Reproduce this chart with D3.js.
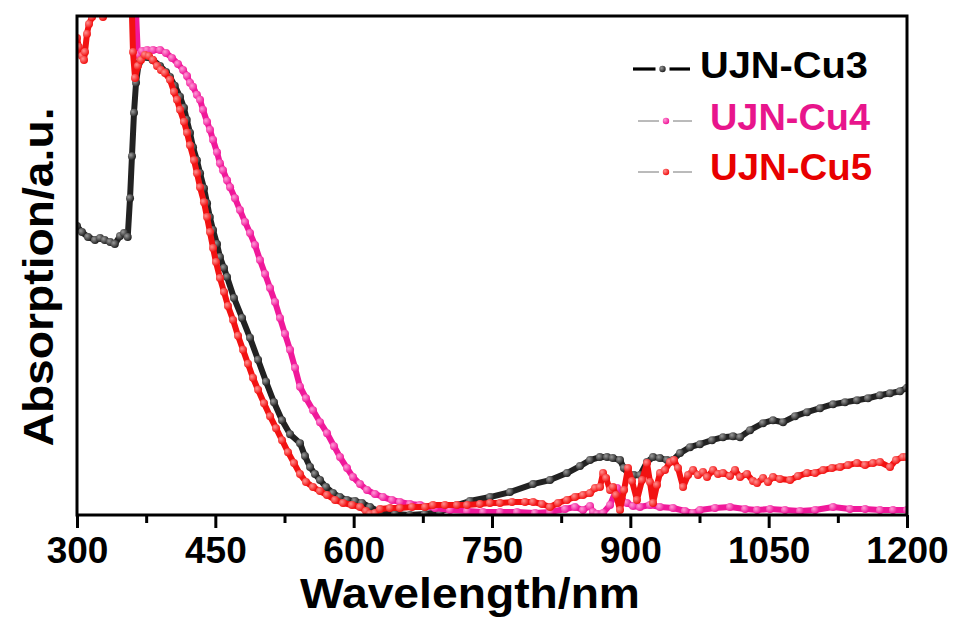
<!DOCTYPE html>
<html>
<head>
<meta charset="utf-8">
<script src="https://cdn.jsdelivr.net/npm/d3@7"></script>
<style>
  body { margin: 0; background: #fff; }
  text { font-family: "Liberation Sans", Arial, sans-serif; font-weight: bold; }
</style>
</head>
<body>
<div id="chart"></div>
<script>
// wavelength (nm), absorption (a.u., 0-100)
const cu3 = [
  [300, 57.9], [305.4, 56.7], [312, 55.7], [319.5, 55.1], [325, 55.5], [330, 55.1], [336, 54.7], [341, 54.3],
  [346.6, 55.9], [351, 56.5], [355, 55.7], [357.5, 63.5], [359.6, 71.9], [361.8, 80.6], [364, 86.6], [367, 90.6],
  [371.6, 91.8], [376, 91.8], [382, 91.2], [390, 90.0], [396.5, 88.8], [400.8, 87.8], [406, 86.0], [411.7, 83.8],
  [416, 81.6], [419, 79.2], [422.5, 76.6], [425.8, 73.7], [430, 71.1], [433.4, 68.5], [437.7, 65.5], [441, 62.5],
  [444, 59.7], [447.5, 57.1], [451.8, 54.3], [455, 51.7], [459.4, 49.5], [462.7, 47.7], [470.2, 43.5], [479, 39.5],
  [487.6, 35.5], [496.3, 31.1], [505, 26.7], [513.6, 22.6], [522.3, 19.0], [531, 16.2], [541.8, 14.4], [547.2, 11.8],
  [552.7, 9.6], [558, 8.2], [563.5, 7.0], [570, 5.6], [577.6, 4.4], [585, 3.6], [592.8, 3.0], [601.5, 2.8],
  [609, 2.4], [617.7, 1.6], [628.6, 0.6], [644.8, 0.2], [661, 0], [677, 0.2], [693.6, 0.6], [712, 2.0],
  [726, 2.8], [747.8, 3.6], [769.5, 4.6], [794.5, 6.2], [812.9, 7.0], [831.3, 8.4], [845.4, 9.8], [856.3, 11.0],
  [867, 11.6], [874.7, 11.6], [881, 11.4], [888.8, 11.0], [893, 9.4], [897.5, 8.2], [904, 8.0], [910.5, 8.0],
  [918, 10.6], [924.6, 11.6], [932, 11.4], [939.8, 11.0], [946, 11.0], [953.9, 12.4], [964.7, 13.6], [975.5, 14.2],
  [988.6, 15.0], [1000.5, 15.6], [1011.3, 15.8], [1019, 15.6], [1029.8, 17.0], [1043.9, 18.4], [1054.7, 19.0],
  [1065.6, 18.6], [1078.6, 19.8], [1091.6, 20.6], [1105.7, 21.4], [1119.8, 22.2], [1132.8, 22.6], [1145.8, 23.0],
  [1157.7, 23.4], [1170.7, 24.0], [1181.6, 24.4], [1192.4, 24.8], [1200, 25.5]
];

const cu4 = [
  [360.7, 115], [366, 92.2], [370.5, 93.0], [376, 93.2], [382.4, 93.2], [390, 93.2], [396.5, 92.6], [403, 91.6],
  [409.5, 90.4], [415, 89.2], [419.3, 88.0], [422.5, 86.6], [425.8, 85.8], [430, 84.2], [433.4, 83.2], [436.6, 81.2],
  [441, 78.8], [444.2, 77.2], [447.5, 75.2], [451.8, 72.7], [455, 70.5], [458.3, 69.1], [462.7, 67.1], [466, 65.7],
  [471.3, 63.5], [476.7, 61.1], [482.2, 58.7], [487.6, 56.5], [493, 54.1], [498.4, 51.1], [503.9, 48.3], [509.3, 45.5],
  [514.7, 42.7], [520.1, 39.5], [525.5, 36.3], [531, 33.1], [536.4, 29.5], [541.8, 25.7], [548.3, 23.4], [555.9, 21.0],
  [563.5, 18.6], [571.1, 16.4], [578.7, 13.8], [585.2, 11.6], [592.8, 9.4], [599.3, 7.6], [606.9, 6.2], [614.5, 5.0],
  [623.1, 4.2], [631.8, 3.6], [641.6, 3.0], [650.2, 2.6], [661.1, 2.2], [671.9, 2.0], [688.2, 1.4], [704.5, 1.0],
  [722.9, 0.8], [740.3, 0.6], [758.7, 0.6], [777.1, 0.6], [796.6, 0.4], [812.9, 0.6], [829.2, 1.2], [840, 1.6],
  [848.7, 1.0], [856.3, 1.8], [859.5, 0.6], [863.9, 0.2], [870.4, 0.4], [878, 2.0], [885.6, 5.4], [891, 3.0],
  [896.4, 2.4], [902.9, 1.8], [910.5, 1.6], [921.3, 2.0], [932.2, 1.6], [946.3, 1.4], [959.3, 0.8], [968, 0.4],
  [975.5, 1.0], [991.8, 1.4], [1008.1, 1.6], [1024.4, 1.2], [1037.4, 1.0], [1051.5, 1.2], [1067.7, 1.0], [1084, 0.8],
  [1100.3, 1.0], [1119.8, 1.6], [1138.2, 1.2], [1154.5, 1.2], [1170.7, 1.0], [1184.8, 1.0], [1200, 1.0]
];

const cu5 = [
  [300, 95.6], [302, 93.8], [305.4, 92.0], [307.6, 91.2], [308.7, 92.8], [310.8, 96.4], [313, 98.4], [316.3, 99.8],
  [321.7, 101.2], [328.2, 99.8], [333.6, 101.6], [358.6, 107], [360.7, 92.8], [362.9, 87.6], [366, 90], [369.4, 91.2],
  [373.7, 92.2], [378, 92.0], [382.4, 91.2], [386.8, 90.0], [391, 89.2], [395.4, 88.6], [400.8, 87.2], [405.2, 84.8],
  [408.4, 83.2], [411.7, 81.2], [416, 78.8], [419.3, 76.6], [422.5, 74.1], [426.9, 71.1], [430.1, 68.5], [433.4, 65.7],
  [437.7, 62.7], [441, 59.7], [444.2, 56.7], [447.5, 53.5], [450.7, 50.7], [455, 47.5], [459.4, 44.7], [463.7, 41.9],
  [469.2, 39.1], [474.6, 35.9], [480, 33.1], [485.4, 30.3], [490.8, 27.5], [496.3, 25.1], [502.8, 22.4], [509.3, 19.8],
  [515.8, 17.4], [522.3, 15.0], [528.8, 12.6], [535.3, 10.4], [541.8, 8.2], [548.3, 6.6], [555.9, 5.6], [563.5, 4.8],
  [571.1, 4.0], [579.8, 3.0], [588.5, 2.4], [598.2, 2.0], [606.9, 1.6], [613.4, 0.8], [617.7, 0.2], [623.1, 0.4],
  [628.6, 1.2], [639.4, 1.4], [650.2, 1.4], [663.3, 1.6], [677.4, 1.6], [686, 2.0], [699, 2.0], [712, 2.0],
  [722.9, 2.0], [737, 2.2], [747.8, 2.4], [758.7, 2.4], [771.7, 2.6], [785.8, 2.6], [794.5, 2.6], [804.2, 2.2],
  [812.9, 1.6], [821.6, 2.4], [831.3, 3.0], [840, 3.6], [848.7, 4.0], [856.3, 4.4], [861.7, 5.4], [867.1, 5.6],
  [870.4, 8.4], [873.7, 7.4], [878, 5.0], [881.2, 5.6], [884.5, 4.0], [888.8, 1.0], [893.2, 5.0], [897.5, 9.4],
  [901.8, 6.8], [907.2, 3.0], [912.7, 7.0], [918.1, 10.4], [921.3, 6.6], [924.6, 2.4], [928.9, 6.0], [932.2, 8.4],
  [937.6, 9.0], [943, 10.6], [947.4, 11.0], [951.7, 9.4], [957.2, 5.6], [962.6, 8.0], [968, 9.0], [973.4, 8.0],
  [978.8, 8.6], [983.2, 7.6], [989.7, 9.0], [995.1, 8.2], [1000.5, 8.4], [1008.1, 7.8], [1013.5, 9.0], [1019, 7.6],
  [1026.5, 8.2], [1033, 6.8], [1037.4, 6.4], [1043.9, 7.4], [1049.3, 6.6], [1054.7, 7.6], [1062.3, 7.2], [1073.2, 7.0],
  [1081.8, 7.8], [1091.6, 8.4], [1100.3, 8.4], [1109, 9.0], [1118.7, 9.4], [1127.4, 9.6], [1136.1, 10.0], [1145.8, 10.4],
  [1154.5, 10.0], [1163.2, 10.4], [1170.7, 10.6], [1181.6, 9.6], [1188.1, 11.0], [1195.7, 11.6], [1200, 11.6]
];

const seriesNames = ["UJN-Cu3", "UJN-Cu4", "UJN-Cu5"];
const majorTicks = [300, 450, 600, 750, 900, 1050, 1200];
const minorTicks = [375, 525, 675, 825, 975, 1125];

const colors = { "UJN-Cu3": "#222222", "UJN-Cu4": "#f0189a", "UJN-Cu5": "#f21212" };
const hilite = { "UJN-Cu3": "#9a9a9a", "UJN-Cu4": "#ff9ad6", "UJN-Cu5": "#ff9090" };
const textColors = { "UJN-Cu3": "#000000", "UJN-Cu4": "#e8158c", "UJN-Cu5": "#e80000" };

const W = 954, H = 617;
const margin = { top: 16, right: 47, bottom: 102, left: 77 };
const width = W - margin.left - margin.right,
  height = H - margin.top - margin.bottom;

const svgRoot = d3.select("#chart").append("svg")
  .attr("width", W).attr("height", H);

const defs = svgRoot.append("defs");
seriesNames.forEach((n, i) => {
  const g = defs.append("radialGradient").attr("id", "dot" + i)
    .attr("cx", "35%").attr("cy", "35%").attr("r", "65%");
  g.append("stop").attr("offset", "0%").attr("stop-color", hilite[n]);
  g.append("stop").attr("offset", "100%").attr("stop-color", colors[n]);
});
defs.append("clipPath").attr("id", "plotclip")
  .append("rect").attr("x", 0).attr("y", 0).attr("width", width).attr("height", height);

const svg = svgRoot.append("g")
  .attr("transform", `translate(${margin.left}, ${margin.top})`);

const x = d3.scaleLinear().domain([300, 1200]).range([0, width]);
const y = d3.scaleLinear().domain([0, 100]).range([height, 0]);

// curves: thick line under beaded markers
const plot = svg.append("g").attr("clip-path", "url(#plotclip)");
const line = d3.line().x(d => x(d[0])).y(d => y(d[1]));
[cu3, cu4, cu5].forEach((data, i) => {
  const n = seriesNames[i];
  plot.append("path").datum(data)
    .attr("fill", "none")
    .attr("stroke", colors[n])
    .attr("stroke-width", 6)
    .attr("stroke-linejoin", "round")
    .attr("stroke-linecap", "round")
    .attr("d", line);
  plot.append("g").selectAll("circle").data(data).join("circle")
    .attr("cx", d => x(d[0]))
    .attr("cy", d => y(d[1]))
    .attr("r", 4)
    .attr("fill", `url(#dot${i})`);
});

// x axis ticks
const xAxis = svg.append("g")
  .attr("transform", `translate(0, ${height})`)
  .call(d3.axisBottom(x).tickValues(majorTicks).tickSize(13).tickFormat(d3.format("d")));
xAxis.select(".domain").remove();
xAxis.selectAll(".tick line").attr("stroke", "#000").attr("stroke-width", 3);
xAxis.selectAll(".tick text")
  .attr("y", 22)
  .attr("fill", "#000")
  .style("font-size", "37px");

const xMinor = svg.append("g")
  .attr("transform", `translate(0, ${height})`)
  .call(d3.axisBottom(x).tickValues(minorTicks).tickSize(8).tickFormat(""));
xMinor.select(".domain").remove();
xMinor.selectAll(".tick line").attr("stroke", "#000").attr("stroke-width", 3);

// frame
svg.append("rect")
  .attr("x", 0).attr("y", 0).attr("width", width).attr("height", height)
  .attr("fill", "none").attr("stroke", "#000").attr("stroke-width", 3);

// axis titles
svgRoot.append("text")
  .attr("x", 470).attr("y", 608)
  .attr("text-anchor", "middle")
  .attr("textLength", 340).attr("lengthAdjust", "spacingAndGlyphs")
  .style("font-size", "43px")
  .text("Wavelength/nm");

svgRoot.append("text")
  .attr("transform", "translate(53, 277) rotate(-90)")
  .attr("text-anchor", "middle")
  .attr("textLength", 339).attr("lengthAdjust", "spacingAndGlyphs")
  .style("font-size", "43px")
  .text("Absorption/a.u.");

// legend
const legendRows = [
  { name: "UJN-Cu3", y: 69, base: 78, tx: 700, tw: 168, x0: 633, x1: 690, lw: 3.2, lc: "#000" },
  { name: "UJN-Cu4", y: 121, base: 130, tx: 710, tw: 160, x0: 638, x1: 692, lw: 1, lc: "#777" },
  { name: "UJN-Cu5", y: 172, base: 180, tx: 710, tw: 162, x0: 638, x1: 692, lw: 1, lc: "#777" }
];
const legend = svgRoot.append("g");
legendRows.forEach((r, i) => {
  const cx = (r.x0 + r.x1) / 2 + 1;
  legend.append("line").attr("x1", r.x0).attr("x2", cx - 7).attr("y1", r.y).attr("y2", r.y)
    .attr("stroke", r.lc).attr("stroke-width", r.lw);
  legend.append("line").attr("x1", cx + 7).attr("x2", r.x1).attr("y1", r.y).attr("y2", r.y)
    .attr("stroke", r.lc).attr("stroke-width", r.lw);
  legend.append("circle").attr("cx", cx).attr("cy", r.y).attr("r", 3.2)
    .attr("fill", `url(#dot${i})`);
  legend.append("text")
    .attr("x", r.tx).attr("y", r.base)
    .attr("fill", textColors[r.name])
    .attr("textLength", r.tw).attr("lengthAdjust", "spacingAndGlyphs")
    .style("font-size", "36px")
    .text(r.name);
});
</script>
</body>
</html>
